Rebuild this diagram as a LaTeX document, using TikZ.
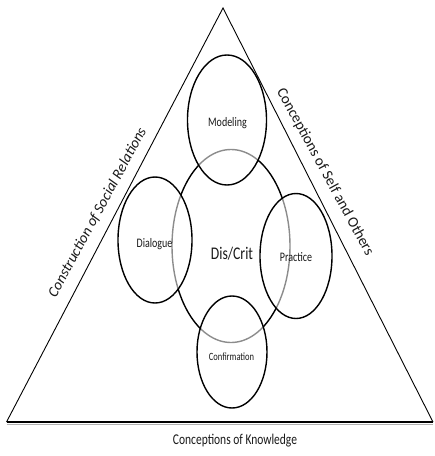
\documentclass[tikz,border=0pt]{standalone}
\usepackage{fontspec}
\setmainfont{Carlito}
\usetikzlibrary{shapes.geometric}

\begin{document}
\begin{tikzpicture}[x=1pt, y=-1pt,
    every node/.style={font=\small},
    side/.style={line width=0.9pt},
    core/.style={ellipse, draw, line width=1.4pt, inner sep=0pt},
    ring/.style={ellipse, draw, line width=1.4pt, fill=white, fill opacity=0.55, inner sep=0pt},
    tag/.style={font=\fontsize{10}{12}\selectfont, text=black!90, yscale=1.3},
    edgetag/.style={font=\fontsize{15}{17}\selectfont, text=black!90}
]
\useasboundingbox (0,0) rectangle (435,456);

% Triangle
\coordinate (apex) at (223,8);
\coordinate (left) at (6.5,422);
\coordinate (right) at (433,422);
\draw[side] (left) -- (apex) -- (right);
\draw[gray!60, line width=1pt] ([yshift=-2pt]left) -- ([yshift=-2pt]right);
\draw[line width=1.3pt] (left) -- (right);

% Central ellipse
\node[core, minimum width=118, minimum height=193] (discrit) at (231,246) {};

% Outer ellipses
\node[ring, minimum width=79, minimum height=130] (modeling) at (227,120) {};
\node[ring, minimum width=74, minimum height=126] (dialogue) at (155,240) {};
\node[ring, minimum width=72, minimum height=125] (practice) at (296,256) {};
\node[ring, minimum width=70, minimum height=112] (confirm) at (232,352) {};

% Labels
\node[tag] (modelingtxt) at (227.5,123) {Modeling};
\node[tag] (dialoguetxt) at (154.5,244) {Dialogue};
\node[tag] (practicetxt) at (296,257) {Practice};
\node[tag, font=\fontsize{8.5}{10}\selectfont] (confirmtxt) at (231.5,357) {Confirmation};
\node[tag, font=\fontsize{13.7}{16}\selectfont] (discrittxt) at (232,254) {Dis/Crit};

% Sides of the triangle
\node[edgetag, rotate=61.5, font=\itshape\fontsize{15}{17}\selectfont] (social) at (97.5,212.5) {Construction of Social Relations};
\node[edgetag, rotate=-61.5] (self) at (325,172) {Conceptions of Self and Others};
\node[tag, font=\fontsize{11.5}{13}\selectfont] (knowledge) at (235,441) {Conceptions of Knowledge};

\end{tikzpicture}
\end{document}
